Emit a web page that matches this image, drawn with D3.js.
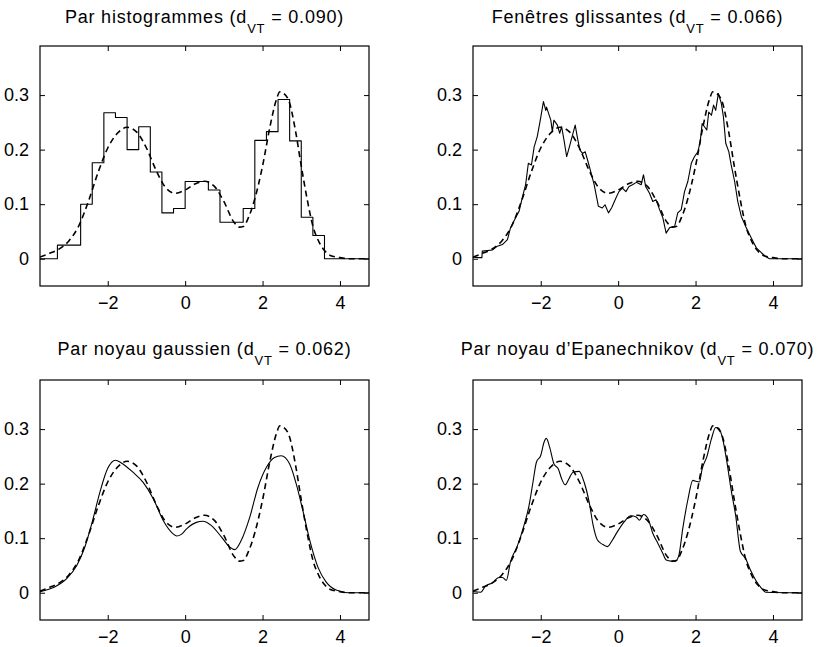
<!DOCTYPE html>
<html>
<head>
<meta charset="utf-8">
<script src="https://cdn.jsdelivr.net/npm/d3@7"></script>
<style>
html,body{margin:0;padding:0;background:#fff;}
svg{display:block;}
text{font-family:"Liberation Sans",Arial,Helvetica,sans-serif;fill:#000;}
</style>
</head>
<body>
<svg id="chart" width="817" height="647"></svg>
<script>
// ---------- data ----------
const xTicks = [-2, 0, 2, 4];
const yTicks = [0, 0.1, 0.2, 0.3];
const titles = [
  ["Par histogrammes (d", "VT", " = 0.090)"],
  ["Fenêtres glissantes (d", "VT", " = 0.066)"],
  ["Par noyau gaussien (d", "VT", " = 0.062)"],
  ["Par noyau d’Epanechnikov (d", "VT", " = 0.070)"]
];

// true density (dashed), same in all panels
const trueDensity = [
  [-3.75,0.003],[-3.5,0.01],[-3.25,0.018],[-3.0,0.033],[-2.75,0.06],[-2.5,0.105],
  [-2.25,0.158],[-2.0,0.203],[-1.75,0.23],[-1.5,0.241],[-1.25,0.232],[-1.0,0.203],
  [-0.75,0.162],[-0.5,0.13],[-0.25,0.12],[0.0,0.126],[0.25,0.137],[0.5,0.142],
  [0.75,0.133],[1.0,0.105],[1.25,0.068],[1.4,0.058],[1.5,0.059],[1.65,0.078],
  [1.8,0.11],[2.0,0.17],[2.2,0.245],[2.35,0.29],[2.45,0.306],[2.55,0.303],
  [2.7,0.285],[2.85,0.235],[3.0,0.17],[3.15,0.11],[3.3,0.06],[3.45,0.032],
  [3.6,0.015],[3.75,0.006],[4.0,0.002],[4.25,0.0],[4.75,0.0]
];

// histogram estimate
const histEdges = [-3.3,-3.0,-2.7,-2.4,-2.1,-1.8,-1.5,-1.2,-0.9,-0.6,-0.3,0.0,
                   0.3,0.6,0.9,1.2,1.5,1.8,2.1,2.4,2.7,3.0,3.3,3.6];
const histHeights = [0.025,0.025,0.1,0.176,0.2675,0.259,0.2,0.242,0.159,0.084,0.092,
                     0.1416,0.1416,0.126,0.067,0.067,0.092,0.217,0.233,0.292,0.216,0.076,0.0425];

// sliding-window estimate
const slideEst = [
  [-3.75,0.003],[-3.60,0.002],[-3.52,0.002],[-3.51,0.014],[-3.25,0.016],[-3.12,0.023],
  [-2.99,0.026],[-2.86,0.035],[-2.78,0.057],[-2.65,0.075],[-2.56,0.087],[-2.48,0.111],
  [-2.39,0.136],[-2.32,0.175],[-2.24,0.172],[-2.17,0.205],[-2.09,0.224],[-2.02,0.251],
  [-1.93,0.288],[-1.87,0.272],[-1.85,0.278],[-1.74,0.254],[-1.70,0.233],[-1.66,0.254],
  [-1.57,0.245],[-1.51,0.23],[-1.46,0.242],[-1.40,0.218],[-1.33,0.187],[-1.27,0.2025],
  [-1.20,0.221],[-1.11,0.245],[-1.05,0.221],[-0.99,0.1995],[-0.92,0.193],[-0.85,0.196],
  [-0.79,0.181],[-0.71,0.16],[-0.62,0.136],[-0.51,0.096],[-0.41,0.093],[-0.34,0.099],
  [-0.25,0.084],[-0.17,0.093],[-0.06,0.111],[0.02,0.123],[0.11,0.1295],[0.20,0.123],
  [0.28,0.1325],[0.37,0.1356],[0.47,0.14],[0.595,0.1356],[0.655,0.154],[0.71,0.1325],
  [0.81,0.12],[0.895,0.105],[0.98,0.108],[1.07,0.09],[1.155,0.075],[1.24,0.047],
  [1.33,0.057],[1.46,0.0595],[1.54,0.084],[1.63,0.09],[1.715,0.123],[1.80,0.1416],
  [1.89,0.175],[1.97,0.187],[2.06,0.196],[2.12,0.2146],[2.17,0.248],[2.23,0.242],
  [2.29,0.236],[2.34,0.269],[2.41,0.263],[2.465,0.2816],[2.52,0.272],[2.59,0.303],
  [2.665,0.285],[2.72,0.26],[2.78,0.2117],[2.86,0.196],[2.92,0.172],[3.01,0.1416],
  [3.09,0.105],[3.18,0.078],[3.31,0.0566],[3.44,0.038],[3.57,0.02],[3.70,0.011],
  [3.83,0.003],[3.91,0.0],[4.75,0.0]
];

// gaussian kernel estimate
const gaussEst = [
  [-3.75,0.002],[-3.36,0.011],[-3.06,0.026],[-2.80,0.05],[-2.6,0.082],[-2.4,0.13],
  [-2.2,0.185],[-2.0,0.228],[-1.8,0.243],[-1.65,0.238],[-1.35,0.221],[-1.08,0.202],
  [-0.82,0.172],[-0.567,0.1325],[-0.31,0.108],[-0.22,0.104],[-0.1,0.107],[0.036,0.117],
  [0.29,0.129],[0.46,0.131],[0.68,0.123],[0.94,0.102],[1.15,0.084],[1.28,0.079],
  [1.45,0.096],[1.67,0.1386],[1.88,0.193],[2.10,0.23],[2.31,0.248],[2.48,0.251],
  [2.70,0.236],[2.87,0.1995],[3.04,0.151],[3.22,0.096],[3.43,0.047],[3.64,0.02],
  [3.90,0.005],[4.24,0.0],[4.75,0.0]
];

// Epanechnikov kernel estimate
const epanEst = [
  [-3.77,0.0025],[-3.55,0.001],[-3.43,0.012],[-3.25,0.018],[-3.08,0.028],[-2.99,0.028],
  [-2.89,0.0226],[-2.78,0.057],[-2.61,0.0846],[-2.43,0.124],[-2.30,0.1605],[-2.20,0.203],
  [-2.11,0.2396],[-2.00,0.2516],[-1.915,0.276],[-1.855,0.283],[-1.77,0.267],[-1.66,0.2365],
  [-1.545,0.227],[-1.46,0.209],[-1.37,0.198],[-1.27,0.209],[-1.165,0.221],[-1.01,0.2225],
  [-0.88,0.203],[-0.75,0.1666],[-0.647,0.124],[-0.535,0.0966],[-0.406,0.0888],[-0.277,0.0846],
  [-0.147,0.0966],[-0.018,0.112],[0.155,0.13],[0.326,0.141],[0.466,0.139],[0.55,0.133],
  [0.655,0.1435],[0.77,0.136],[0.895,0.109],[1.025,0.0906],[1.155,0.072],[1.24,0.06],
  [1.37,0.058],[1.48,0.058],[1.57,0.069],[1.67,0.118],[1.80,0.17],[1.93,0.206],
  [2.02,0.204],[2.10,0.203],[2.17,0.227],[2.29,0.249],[2.41,0.282],[2.52,0.303],
  [2.60,0.3015],[2.71,0.279],[2.81,0.2396],[2.92,0.188],[3.035,0.142],[3.16,0.0755],
  [3.29,0.063],[3.415,0.042],[3.57,0.021],[3.70,0.0086],[3.81,0.001],[4.75,0.0]
];

// ---------- drawing ----------
const xDomain = [-3.75, 4.75];
const yDomain = [-0.05, 0.39];
const panels = [
  {left:40,  top:46,  w:329, h:240, titleY:23},
  {left:473, top:46,  w:329, h:240, titleY:23},
  {left:40,  top:380, w:329, h:240, titleY:355},
  {left:473, top:380, w:329, h:240, titleY:355}
];

// histogram as step points
const histPoints = [[xDomain[0], 0]];
histHeights.forEach((h, i) => histPoints.push([histEdges[i], h]));
histPoints.push([histEdges[histEdges.length - 1], 0]);
histPoints.push([xDomain[1], 0]);

const estimates = [
  {data: histPoints, curve: d3.curveStepAfter},
  {data: slideEst, curve: d3.curveLinear},
  {data: gaussEst, curve: d3.curveMonotoneX},
  {data: epanEst, curve: d3.curveMonotoneX}
];

const svg = d3.select("#chart");
const FS = 18;

panels.forEach((p, i) => {
  const x = d3.scaleLinear().domain(xDomain).range([0, p.w]);
  const y = d3.scaleLinear().domain(yDomain).range([p.h, 0]);
  const g = svg.append("g").attr("transform", `translate(${p.left},${p.top})`);

  const clipId = "clip" + i;
  g.append("clipPath").attr("id", clipId).append("rect")
    .attr("width", p.w).attr("height", p.h);

  // axes with inward ticks
  const axB = g.append("g").attr("transform", `translate(0,${p.h})`)
    .call(d3.axisBottom(x).tickValues(xTicks).tickSizeInner(-5).tickSizeOuter(0).tickPadding(10));
  const axT = g.append("g")
    .call(d3.axisTop(x).tickValues(xTicks).tickSizeInner(-5).tickSizeOuter(0).tickFormat(""));
  const axL = g.append("g")
    .call(d3.axisLeft(y).tickValues(yTicks).tickSizeInner(-5).tickSizeOuter(0).tickPadding(11)
      .tickFormat(d => d === 0 ? "0" : d3.format(".1f")(d)));
  const axR = g.append("g").attr("transform", `translate(${p.w},0)`)
    .call(d3.axisRight(y).tickValues(yTicks).tickSizeInner(-5).tickSizeOuter(0).tickFormat(""));
  [axB, axT, axL, axR].forEach(a => {
    a.select(".domain").remove();
    a.selectAll("line").attr("stroke", "#000").attr("stroke-width", 1);
    a.selectAll("text").attr("font-size", FS).attr("font-family", "Liberation Sans, Arial, sans-serif").attr("fill", "#000");
  });

  const lineGen = (curve) => d3.line().x(d => x(d[0])).y(d => y(d[1])).curve(curve);

  const plot = g.append("g").attr("clip-path", `url(#${clipId})`);
  plot.append("path").datum(trueDensity)
    .attr("d", lineGen(d3.curveMonotoneX))
    .attr("fill", "none").attr("stroke", "#000").attr("stroke-width", 1.6)
    .attr("stroke-dasharray", "6,4");
  plot.append("path").datum(estimates[i].data)
    .attr("d", lineGen(estimates[i].curve))
    .attr("fill", "none").attr("stroke", "#000").attr("stroke-width", 1.1)
    .attr("stroke-linejoin", "round");

  // frame
  g.append("rect").attr("width", p.w).attr("height", p.h)
    .attr("fill", "none").attr("stroke", "#000").attr("stroke-width", 1.2);

  // title with subscript
  const t = svg.append("text")
    .attr("x", p.left + p.w / 2).attr("y", p.titleY)
    .attr("text-anchor", "middle").attr("font-size", FS)
    .attr("letter-spacing", "0.8px");
  t.append("tspan").text(titles[i][0]);
  t.append("tspan").attr("font-size", 13).attr("dy", 10).text(titles[i][1]);
  t.append("tspan").attr("dy", -10).text(titles[i][2]);
});
</script>
</body>
</html>
